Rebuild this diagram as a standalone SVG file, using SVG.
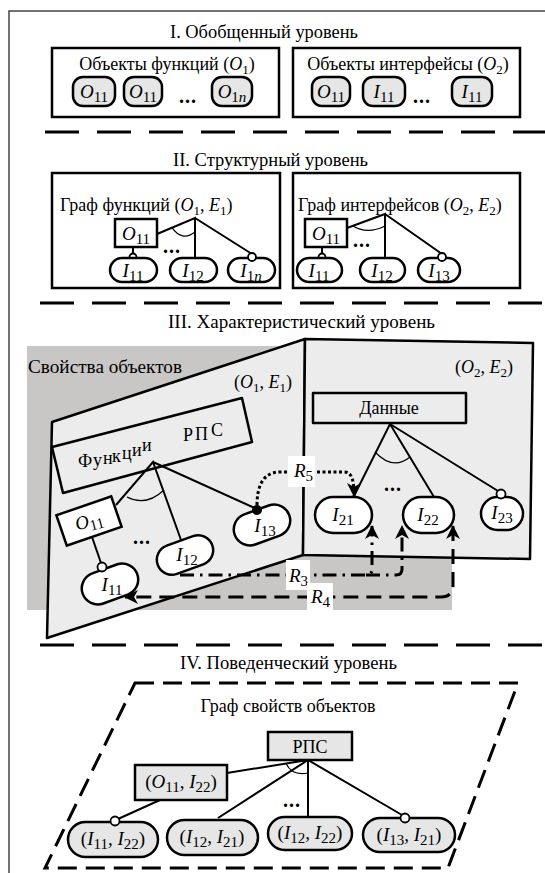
<svg xmlns="http://www.w3.org/2000/svg" width="545" height="873" viewBox="0 0 545 873">
<style>
text{font-family:'Liberation Serif','Times New Roman',serif;font-size:18px;fill:#000}
.c{text-anchor:middle}
.i{font-style:italic}
.s{font-size:13px}
.nl{font-size:19px}
.nl .s{font-size:15px}
.dots{font-weight:bold;font-size:20px;text-anchor:middle;letter-spacing:1px}
.box{fill:#fff;stroke:#000;stroke-width:2.5}
.node{fill:#e6e6e6;stroke:#000;stroke-width:2.5}
.pill{fill:#fff;stroke:#000;stroke-width:2.5}
.panel{fill:#ececec;stroke:#000;stroke-width:2.5;stroke-linejoin:round}
.ln{stroke:#000;stroke-width:2;fill:none}
.arc{stroke:#000;stroke-width:1.2;fill:none}
.sep{stroke:#000;stroke-width:3;stroke-dasharray:34 18;fill:none}
.odot{fill:#fff;stroke:#000;stroke-width:1.8}
.lbl{fill:#fff;stroke:none}
.r5{stroke:#000;stroke-width:3;fill:none;stroke-dasharray:3 2.5}
.r3{stroke:#000;stroke-width:3;fill:none;stroke-dasharray:14 6 2.5 6}
.r4{stroke:#000;stroke-width:3;fill:none;stroke-dasharray:15 8}
.par{stroke:#000;stroke-width:3;fill:none;stroke-dasharray:19 9}
</style>
<defs>
<marker id="ah" viewBox="0 0 14 14" refX="13" refY="7" markerWidth="14" markerHeight="14" markerUnits="userSpaceOnUse" orient="auto-start-reverse">
<path d="M0,0 L14,7 L0,14 L4,7 Z" fill="#000"/>
</marker>
</defs>

<path id="frame" d="M9,873 V11 H545" fill="none" stroke="#444" stroke-width="1.5"/>

<!-- Level I -->
<g id="level1">
<text x="170" y="38" textLength="188" lengthAdjust="spacingAndGlyphs">I. Обобщенный уровень</text>
<g id="objects-functions">
<rect x="52" y="48" width="227" height="69" class="box"/>
<text x="167" y="70" class="c">Объекты функций (<tspan class="i">O</tspan><tspan class="s" dy="4">1</tspan><tspan dy="-4">)</tspan></text>
<rect x="73" y="77" width="42" height="29" rx="10" class="node"/>
<text x="94" y="98" class="c nl"><tspan class="i">O</tspan><tspan class="s" dy="4">11</tspan></text>
<rect x="124" y="77" width="38" height="29" rx="10" class="node"/>
<text x="143" y="98" class="c nl"><tspan class="i">O</tspan><tspan class="s" dy="4">11</tspan></text>
<text x="188" y="103" class="dots">...</text>
<rect x="212" y="77" width="40" height="29" rx="10" class="node"/>
<text x="232" y="98" class="c nl"><tspan class="i">O</tspan><tspan class="s" dy="4">1<tspan class="i">n</tspan></tspan></text>
</g>
<g id="objects-interfaces">
<rect x="293" y="48" width="227" height="69" class="box"/>
<text x="408" y="70" class="c">Объекты интерфейсы (<tspan class="i">O</tspan><tspan class="s" dy="4">2</tspan><tspan dy="-4">)</tspan></text>
<rect x="312" y="77" width="38" height="29" rx="10" class="node"/>
<text x="331" y="98" class="c nl"><tspan class="i">O</tspan><tspan class="s" dy="4">11</tspan></text>
<rect x="363" y="77" width="42" height="29" rx="10" class="node"/>
<text x="384" y="98" class="c nl"><tspan class="i">I</tspan><tspan class="s" dy="4">11</tspan></text>
<text x="422" y="103" class="dots">...</text>
<rect x="452" y="77" width="40" height="29" rx="10" class="node"/>
<text x="472" y="98" class="c nl"><tspan class="i">I</tspan><tspan class="s" dy="4">11</tspan></text>
</g>
</g>
<line x1="45" y1="132" x2="560" y2="132" class="sep"/>

<!-- Level II -->
<g id="level2">
<text x="173" y="166" textLength="195" lengthAdjust="spacingAndGlyphs">II. Структурный уровень</text>
<g id="graph-functions">
<rect x="52" y="173" width="228" height="115" class="box"/>
<text x="60" y="211">Граф функций (<tspan class="i">O</tspan><tspan class="s" dy="4">1</tspan><tspan dy="-4">, </tspan><tspan class="i">E</tspan><tspan class="s" dy="4">1</tspan><tspan dy="-4">)</tspan></text>
<path d="M157,234 L195,218 L195,258 M195,218 L252,254 M133,247 V255" class="ln"/>
<path d="M172,227.7 Q182,242 195,232" class="arc"/>
<rect x="115" y="219" width="42" height="28" class="box"/>
<text x="136" y="240" class="c nl"><tspan class="i">O</tspan><tspan class="s" dy="4">11</tspan></text>
<circle cx="133" cy="257" r="3.5" class="odot"/>
<rect x="110" y="258" width="47" height="24" rx="12" class="pill"/>
<text x="133" y="277" class="c nl"><tspan class="i">I</tspan><tspan class="s" dy="4">11</tspan></text>
<rect x="170" y="258" width="47" height="24" rx="12" class="pill"/>
<text x="193" y="277" class="c nl"><tspan class="i">I</tspan><tspan class="s" dy="4">12</tspan></text>
<rect x="228" y="258" width="47" height="24" rx="12" class="pill"/>
<text x="251" y="277" class="c nl"><tspan class="i">I</tspan><tspan class="s" dy="4">1<tspan class="i">n</tspan></tspan></text>
<circle cx="252" cy="257" r="4" class="odot"/>
<text x="172" y="253" class="dots">...</text>
</g>
<g id="graph-interfaces">
<rect x="293" y="173" width="227" height="115" class="box"/>
<text x="298" y="211">Граф интерфейсов (<tspan class="i">O</tspan><tspan class="s" dy="4">2</tspan><tspan dy="-4">, </tspan><tspan class="i">E</tspan><tspan class="s" dy="4">2</tspan><tspan dy="-4">)</tspan></text>
<path d="M347,228 L385,214 L385,258 M385,214 L442,254 M322,247 V255" class="ln"/>
<path d="M352,225.5 Q367,235 385,226" class="arc"/>
<rect x="305" y="219" width="42" height="28" class="box"/>
<text x="326" y="240" class="c nl"><tspan class="i">O</tspan><tspan class="s" dy="4">11</tspan></text>
<circle cx="322" cy="257" r="3.5" class="odot"/>
<rect x="297" y="258" width="45" height="24" rx="12" class="pill"/>
<text x="319" y="277" class="c nl"><tspan class="i">I</tspan><tspan class="s" dy="4">11</tspan></text>
<rect x="360" y="258" width="45" height="24" rx="12" class="pill"/>
<text x="382" y="277" class="c nl"><tspan class="i">I</tspan><tspan class="s" dy="4">12</tspan></text>
<rect x="418" y="258" width="42" height="24" rx="12" class="pill"/>
<text x="439" y="277" class="c nl"><tspan class="i">I</tspan><tspan class="s" dy="4">13</tspan></text>
<circle cx="442" cy="257" r="4" class="odot"/>
<text x="362" y="247" class="dots">...</text>
</g>
</g>
<line x1="40" y1="303" x2="560" y2="303" class="sep"/>

<!-- Level III -->
<g id="level3">
<text x="168" y="328" textLength="267" lengthAdjust="spacingAndGlyphs">III. Характеристический уровень</text>
<rect id="props-bg" x="27" y="346" width="425" height="264" fill="#c8c7c5"/>
<text x="28" y="373" textLength="154" lengthAdjust="spacingAndGlyphs">Свойства объектов</text>

<g id="panel-functions">
<polygon points="52,422 305,339 303,555 47,638" class="panel"/>
<text x="263" y="388" class="c">(<tspan class="i">O</tspan><tspan class="s" dy="4">1</tspan><tspan dy="-4">, </tspan><tspan class="i">E</tspan><tspan class="s" dy="4">1</tspan><tspan dy="-4">)</tspan></text>
<polygon points="52,447 242,398 252,442 63,493" class="panel"/>
<text x="78 93 103 112 122 132 142" y="467 466 464 462 459 456 451">Функции</text>
<text x="183 195 211" y="441 440 436" font-size="16">РПС</text>
<path d="M116,505 L153,462 L181,540 M153,462 L257,509" class="ln"/>
<path d="M127,497 Q146,507 164,490" class="arc"/>
<path d="M92,537 L101,563" class="ln"/>
<g id="n-O11-f">
<rect x="60" y="505" width="58" height="32" class="box" transform="rotate(-19 89 521)"/>
<text x="89" y="527" class="c nl" transform="rotate(-15 89 521)"><tspan class="i">O</tspan><tspan class="s" dy="4">11</tspan></text>
</g>
<g id="n-I11-f">
<rect x="81" y="568" width="58" height="32" rx="16" class="pill" transform="rotate(-20 110 584)"/>
<circle cx="102" cy="567" r="4.5" class="odot"/>
<text x="112" y="591" class="c nl"><tspan class="i">I</tspan><tspan class="s" dy="4">11</tspan></text>
</g>
<g id="n-I12-f">
<rect x="156" y="540" width="58" height="30" rx="15" class="pill" transform="rotate(-20 185 555)"/>
<text x="187" y="561" class="c nl"><tspan class="i">I</tspan><tspan class="s" dy="4">12</tspan></text>
</g>
<g id="n-I13-f">
<rect x="233" y="509" width="58" height="32" rx="16" class="pill" transform="rotate(-20 262 525)"/>
<circle cx="257" cy="510" r="5" fill="#000"/>
<text x="265" y="532" class="c nl"><tspan class="i">I</tspan><tspan class="s" dy="4">13</tspan></text>
</g>
<text x="142" y="544" class="dots">...</text>
</g>

<g id="panel-interfaces">
<polygon points="305,339 533,343 530,559 303,555" class="panel"/>
<text x="484" y="373" class="c">(<tspan class="i">O</tspan><tspan class="s" dy="4">2</tspan><tspan dy="-4">, </tspan><tspan class="i">E</tspan><tspan class="s" dy="4">2</tspan><tspan dy="-4">)</tspan></text>
<rect x="313" y="393" width="153" height="30" class="panel"/>
<text x="389" y="414" class="c">Данные</text>
<path d="M353,498 L390,424 L434,497 M390,424 L498,491" class="ln"/>
<path d="M375,452 Q393,471 410,457" class="arc"/>
<g id="n-I21">
<rect x="315" y="497" width="57" height="36" rx="18" class="pill"/>
<text x="343" y="521" class="c nl"><tspan class="i">I</tspan><tspan class="s" dy="4">21</tspan></text>
</g>
<g id="n-I22">
<rect x="403" y="497" width="51" height="36" rx="18" class="pill"/>
<text x="428" y="521" class="c nl"><tspan class="i">I</tspan><tspan class="s" dy="4">22</tspan></text>
</g>
<g id="n-I23">
<rect x="481" y="497" width="42" height="33" rx="16.5" class="pill"/>
<circle cx="501" cy="494" r="4.5" class="odot"/>
<text x="502" y="519" class="c nl"><tspan class="i">I</tspan><tspan class="s" dy="4">23</tspan></text>
</g>
<text x="393" y="491" class="dots">...</text>
</g>

<g id="connectors">
<path d="M257,505 C257,488 262,472 280,472 L344,472 C352,472 354,480 354,496" class="r5" marker-end="url(#ah)"/>
<path d="M180,575 H366 Q372,575 372,569 V526" class="r3" marker-end="url(#ah)"/>
<path d="M366,575 H396 Q402,575 402,569 V526" class="r3" marker-end="url(#ah)"/>
<path d="M453,526 V585 Q453,597 441,597 H125" class="r4" marker-start="url(#ah)" marker-end="url(#ah)"/>
<rect x="288" y="456" width="27" height="31" class="lbl"/>
<text x="294" y="477" class="nl"><tspan class="i">R</tspan><tspan class="s" dy="4">5</tspan></text>
<rect x="286" y="560" width="24" height="30" class="lbl"/>
<text x="289" y="582" class="nl"><tspan class="i">R</tspan><tspan class="s" dy="4">3</tspan></text>
<rect x="307" y="583" width="26" height="27" class="lbl"/>
<text x="311" y="603" class="nl"><tspan class="i">R</tspan><tspan class="s" dy="4">4</tspan></text>
</g>
</g>
<line x1="40" y1="645" x2="560" y2="645" class="sep"/>

<!-- Level IV -->
<g id="level4">
<text x="180" y="669" textLength="217" lengthAdjust="spacingAndGlyphs">IV. Поведенческий уровень</text>
<path d="M135,683 H518 L448,868 H45 Z" class="par"/>
<text x="288" y="712" class="c">Граф свойств объектов</text>
<path d="M227,773 L308,760 M308,760 L218,818 M308,760 V818 M308,760 L402,815 M160,800 L118,819" class="ln"/>
<path d="M286,763.5 Q292,776 308,773" class="arc"/>
<g id="n-rps">
<rect x="268" y="732" width="84" height="28" class="node"/>
<text x="310" y="753" class="c">РПС</text>
</g>
<g id="n-O11-I22">
<rect x="135" y="765" width="92" height="35" class="node"/>
<text x="181" y="788" class="c nl">(<tspan class="i">O</tspan><tspan class="s" dy="4">11</tspan><tspan dy="-4">, </tspan><tspan class="i">I</tspan><tspan class="s" dy="4">22</tspan><tspan dy="-4">)</tspan></text>
</g>
<g id="n-I11-I22">
<rect x="68" y="822" width="90" height="35" rx="17.5" class="node"/>
<circle cx="115" cy="821" r="4.5" class="odot"/>
<text x="113" y="845" class="c nl">(<tspan class="i">I</tspan><tspan class="s" dy="4">11</tspan><tspan dy="-4">, </tspan><tspan class="i">I</tspan><tspan class="s" dy="4">22</tspan><tspan dy="-4">)</tspan></text>
</g>
<g id="n-I12-I21">
<rect x="167" y="820" width="91" height="35" rx="17.5" class="node"/>
<text x="212" y="843" class="c nl">(<tspan class="i">I</tspan><tspan class="s" dy="4">12</tspan><tspan dy="-4">, </tspan><tspan class="i">I</tspan><tspan class="s" dy="4">21</tspan><tspan dy="-4">)</tspan></text>
</g>
<g id="n-I12-I22">
<rect x="268" y="817" width="84" height="33" rx="16.5" class="node"/>
<text x="310" y="839" class="c nl">(<tspan class="i">I</tspan><tspan class="s" dy="4">12</tspan><tspan dy="-4">, </tspan><tspan class="i">I</tspan><tspan class="s" dy="4">22</tspan><tspan dy="-4">)</tspan></text>
</g>
<g id="n-I13-I21">
<rect x="363" y="818" width="92" height="34" rx="17" class="node"/>
<circle cx="405" cy="818" r="4.5" class="odot"/>
<text x="409" y="841" class="c nl">(<tspan class="i">I</tspan><tspan class="s" dy="4">13</tspan><tspan dy="-4">, </tspan><tspan class="i">I</tspan><tspan class="s" dy="4">21</tspan><tspan dy="-4">)</tspan></text>
</g>
<text x="292" y="807" class="dots">...</text>
</g>
</svg>
